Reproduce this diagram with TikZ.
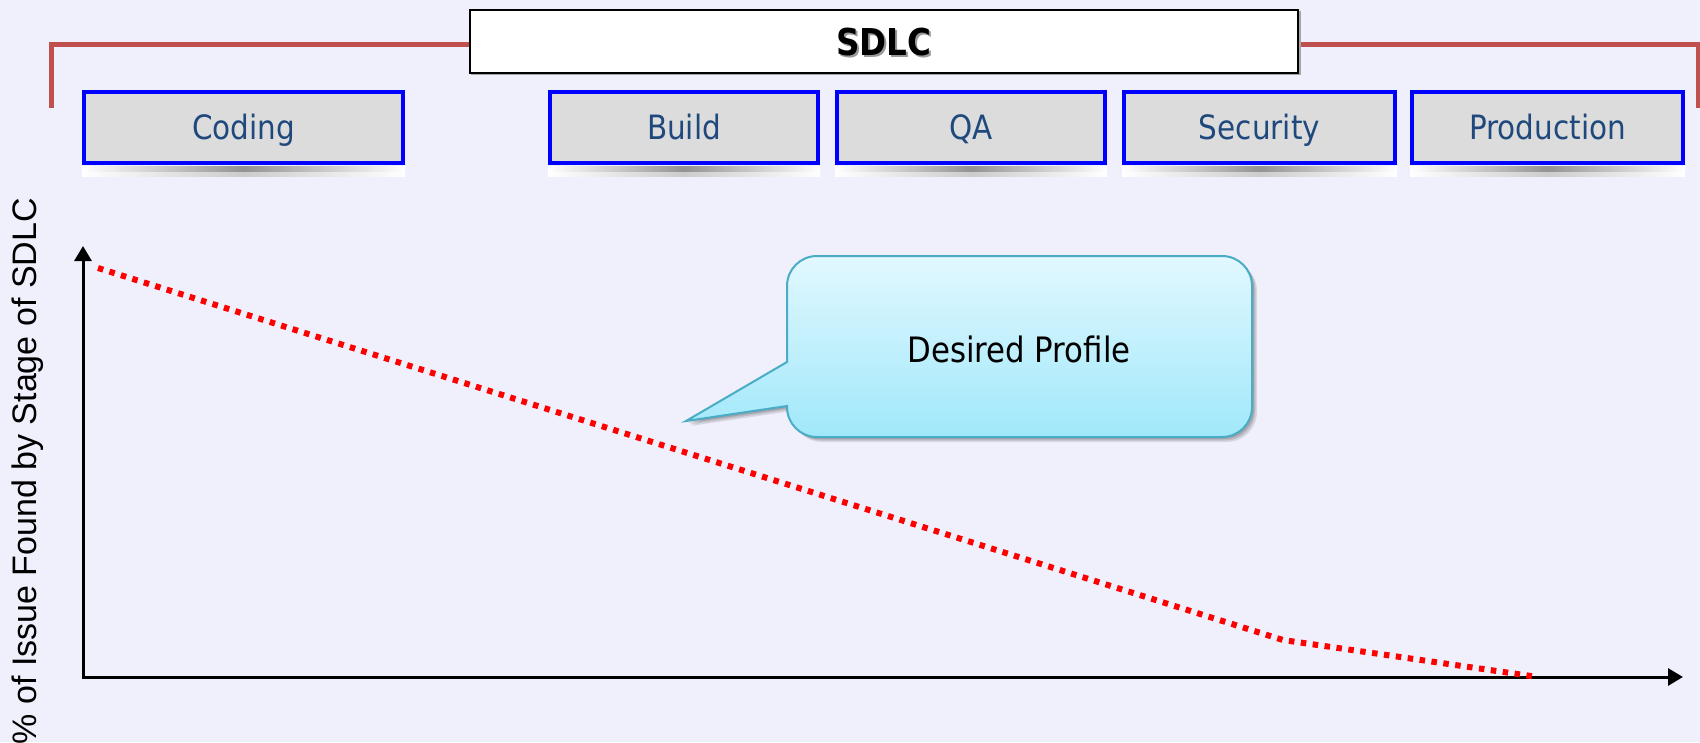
\documentclass[tikz,border=0pt]{standalone}
\usepackage{fontspec}
\setmainfont{DejaVu Sans}
\newfontfamily\stagefont[FakeStretch=0.88]{DejaVu Sans}
\newfontfamily\labelfont{Liberation Sans}
\usetikzlibrary{arrows.meta}

\definecolor{pagebg}{RGB}{240,240,252}
\definecolor{bracketred}{RGB}{192,80,77}
\definecolor{stagefill}{RGB}{220,220,220}
\definecolor{stageblue}{RGB}{0,0,255}
\definecolor{stagetext}{RGB}{31,73,125}
\definecolor{calloutedge}{RGB}{75,172,198}
\definecolor{callouttop}{RGB}{226,248,255}
\definecolor{calloutbottom}{RGB}{160,232,250}

% outline of the speech bubble, corners of radius 30
\newcommand\bubbleoutline{(686,421) -- (787,406) -- (787,407)
  .. controls (787,423.6) and (800.4,437) .. (817,437) -- (1222,437)
  .. controls (1238.6,437) and (1252,423.6) .. (1252,407) -- (1252,286)
  .. controls (1252,269.4) and (1238.6,256) .. (1222,256) -- (817,256)
  .. controls (800.4,256) and (787,269.4) .. (787,286) -- (787,362) -- cycle}

\begin{document}
\begin{tikzpicture}[x=1pt,y=-1pt,
  stagebox/.style={draw=stageblue, line width=4pt, fill=stagefill,
    minimum height=71pt, inner sep=0pt, text=stagetext,
    text height=24pt, text depth=0pt,
    font=\stagefont\fontsize{33.5}{40}\selectfont},
  bracketline/.style={draw=bracketred, line width=5pt},
  axisline/.style={draw=black, line width=3pt,
    {Triangle[length=15pt,width=17pt]}-{Triangle[length=15pt,width=17pt]}},
  profile/.style={draw=red, line width=6pt, dash pattern=on 5.5pt off 6.5pt},
  bubble/.style={draw=calloutedge, line width=2pt,
    top color=callouttop, bottom color=calloutbottom},
  titlefont/.style={font=\stagefont\bfseries\fontsize{37}{44}\selectfont,
    text height=27pt, text depth=0pt, inner sep=0pt},
]
% page
\fill[pagebg] (0,0) rectangle (1700,742);
\useasboundingbox (0,0) rectangle (1700,742);

% bracket spanning the lifecycle
\coordinate (bl) at (51,108);
\coordinate (btl) at (51,44);
\coordinate (btr) at (1698,44);
\coordinate (br) at (1698,108);
\draw[bracketline] (bl) -- (btl) -- (btr) -- (br);

% title box
\fill[gray!70] (471,11) rectangle (1301,75);
\node[draw=black, line width=2pt, fill=white, minimum width=828pt,
  minimum height=63pt, inner sep=0pt] (sdlc) at (884,41.5) {};
\node[titlefont, text=gray!80] (sdlcshadow)
  at ([xshift=2pt,yshift=-2pt]sdlc.center) {SDLC};
\node[titlefont] (sdlctext) at (sdlc.center) {SDLC};

% lifecycle stages
\node[stagebox, minimum width=319pt] (coding) at (243.5,127.5) {Coding};
\node[stagebox, minimum width=268pt] (build) at (684,127.5) {Build};
\node[stagebox, minimum width=268pt] (qa) at (971,127.5) {QA};
\node[stagebox, minimum width=271pt] (security) at (1259.5,127.5) {Security};
\node[stagebox, minimum width=271pt] (production) at (1547.5,127.5) {Production};
\foreach \s in {coding,build,qa,security,production}{
  \shade[left color=white, right color=white, middle color=gray!40]
    ([yshift=-1pt]\s.south west) rectangle ([yshift=-11pt]\s.south east);
  \shade[left color=white, right color=white, middle color=gray!85]
    ([yshift=-1pt]\s.south west) rectangle ([yshift=-6pt]\s.south east);
}

% axes
\coordinate (ytop) at (83,246);
\coordinate (origin) at (83,677);
\coordinate (xend) at (1683,677);
\draw[axisline] (ytop) -- (origin) -- (xend);

\node[rotate=90, anchor=base east, inner sep=0pt,
  font=\labelfont\fontsize{34}{40}\selectfont] (ylabel) at (36,198)
  {\% of Issue Found by Stage of SDLC};

% desired profile curve
\coordinate (p0) at (98,268);
\coordinate (p1) at (1283,640);
\coordinate (p2) at (1538,677);
\draw[profile] (p0) -- (p1) -- (p2);

% speech bubble with a soft shadow
\foreach \o/\s in {0.10/5, 0.12/3.5, 0.14/2}{
  \fill[black, opacity=\o] [xshift=\s pt, yshift=-\s pt] \bubbleoutline;
}
\path[bubble] \bubbleoutline;
\node[font=\stagefont\fontsize{35}{42}\selectfont] (desired) at (1019,349)
  {Desired Profile};
\end{tikzpicture}
\end{document}
